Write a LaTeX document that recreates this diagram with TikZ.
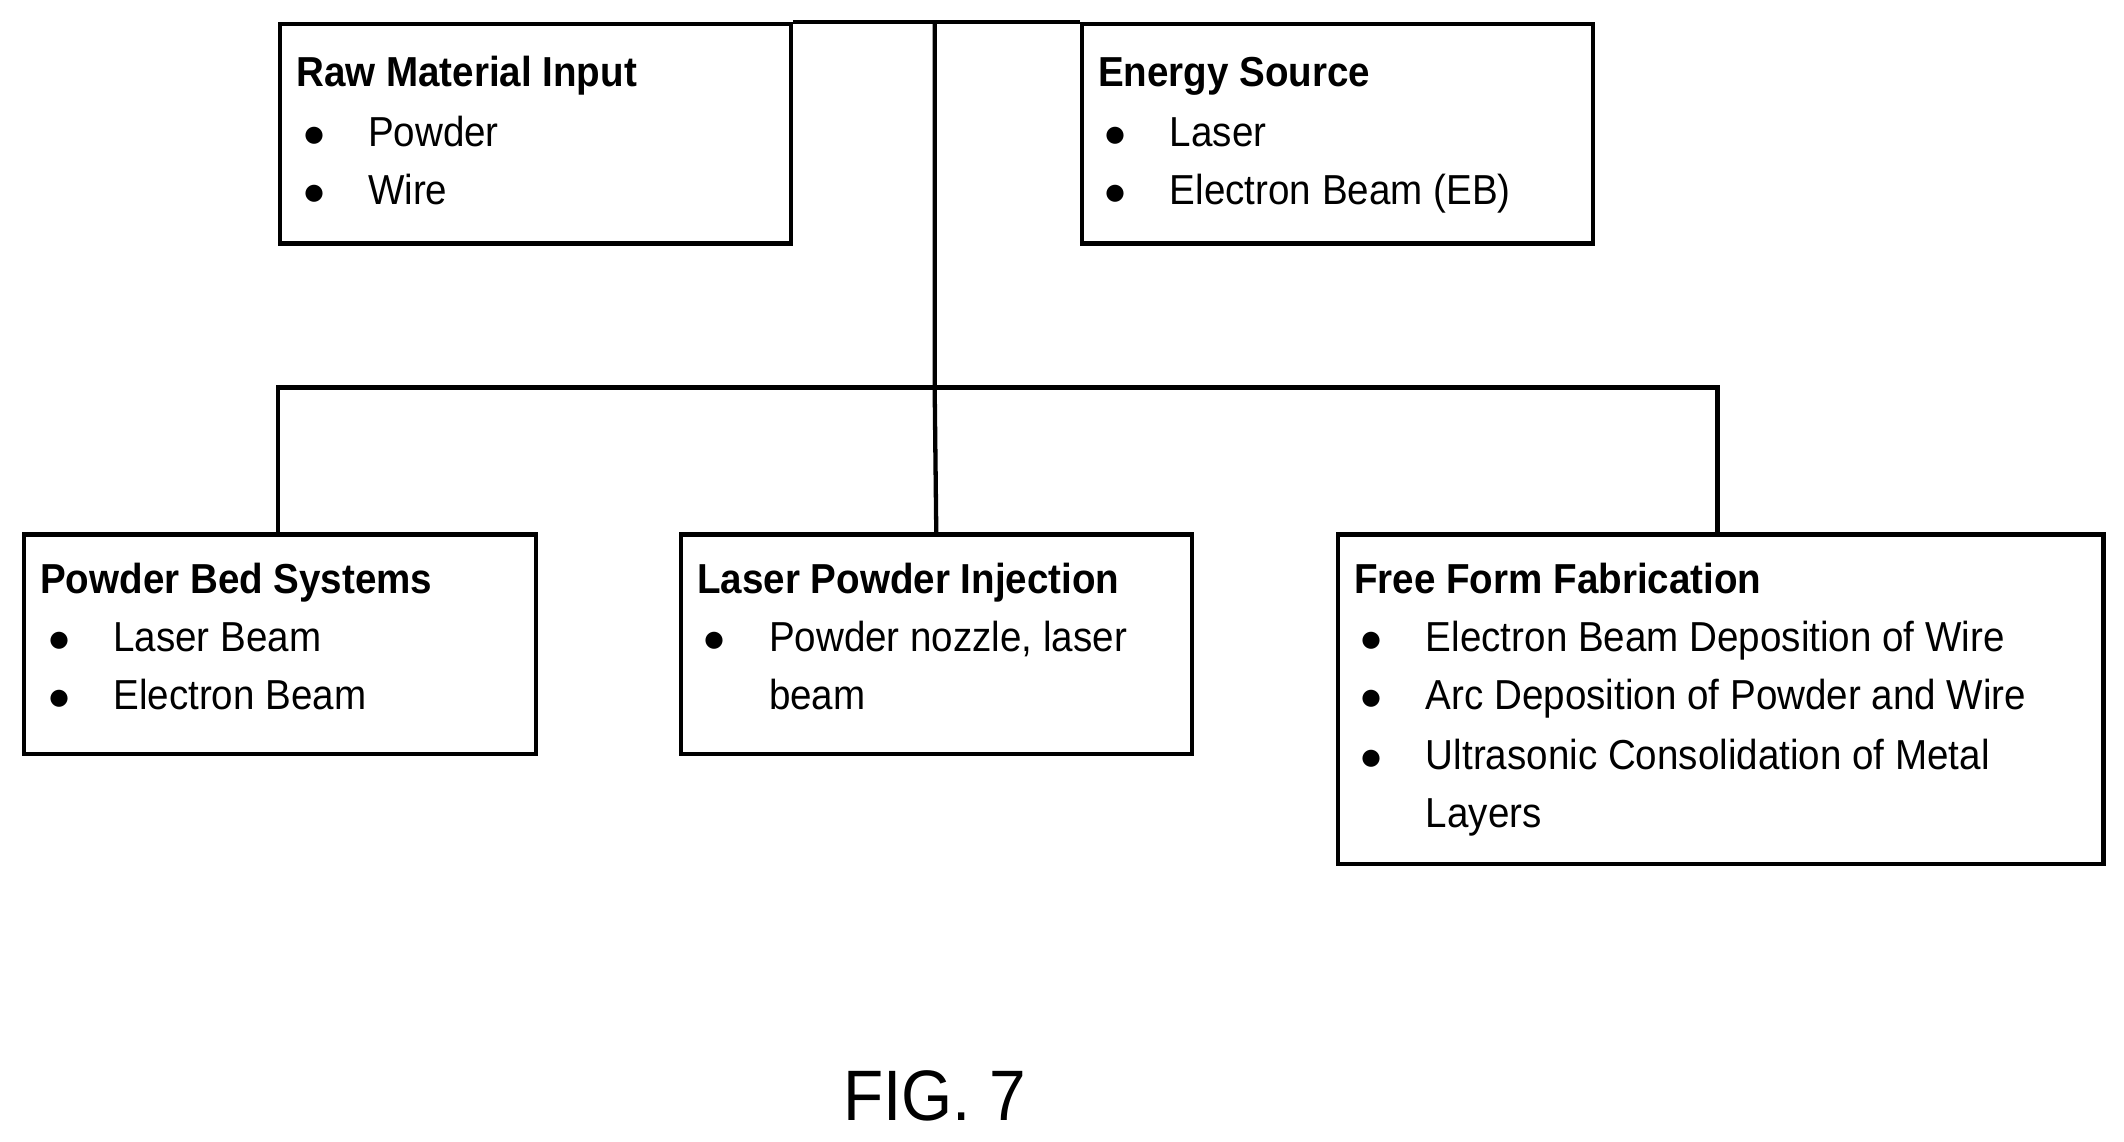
\documentclass[tikz,border=0pt]{standalone}
\usepackage{fontspec}
\setmainfont{Liberation Sans}[FakeStretch=0.92]
\begin{document}
\begin{tikzpicture}[x=0.01cm,y=-0.01cm,
  box/.style={draw,line width=0.9pt,inner sep=0,anchor=north west},
  ln/.style={line width=0.9pt},
  t/.style={anchor=base west,inner sep=0,font=\fontsize{8.8}{12}\selectfont},
  h/.style={t,font=\fontsize{8.8}{12}\selectfont\bfseries}]
\useasboundingbox (0,0) rectangle (1568,843);
\node[box,minimum width=3.77cm,minimum height=1.62cm] (raw) at (205,16) {};
\node[box,minimum width=3.77cm,minimum height=1.62cm] (energy) at (797,16) {};
\node[box,minimum width=3.78cm,minimum height=1.62cm] (pbs) at (16,393) {};
\node[box,minimum width=3.77cm,minimum height=1.62cm] (lpi) at (501,393) {};
\node[box,minimum width=5.65cm,minimum height=2.43cm] (ffm) at (986,393) {};
\coordinate (top) at (690,16);
\coordinate (mid) at (690,286);
\coordinate (l) at (205,286);
\coordinate (r) at (1268,286);
\draw[ln] (raw.north east) -- (energy.north west);
\draw[ln] (top) -- (mid) -- (lpi.north);
\draw[ln] (pbs.north -| l) -- (l) -- (r) -- (ffm.north -| r);
\newcommand{\blt}[3]{\node[t] at (#1-48,#2) {$\bullet$}; \node[t] at (#1,#2) {#3};}
\node[h] at (218,64) {Raw Material Input};
\blt{271}{108}{Powder}
\blt{271}{151}{Wire}
\node[h] at (810,64) {Energy Source};
\blt{863}{108}{Laser}
\blt{863}{151}{Electron Beam (EB)}
\node[h] at (29,438) {Powder Bed Systems};
\blt{83}{481}{Laser Beam}
\blt{83}{524}{Electron Beam}
\node[h] at (514,438) {Laser Powder Injection};
\blt{567}{481}{Powder nozzle, laser}
\node[t] at (567,524) {beam};
\node[h] at (999,438) {Free Form Fabrication};
\blt{1052}{481}{Electron Beam Deposition of Wire}
\blt{1052}{524}{Arc Deposition of Powder and Wire}
\blt{1052}{568}{Ultrasonic Consolidation of Metal}
\node[t] at (1052,611) {Layers};
\node[anchor=base,inner sep=0,font=\fontsize{15}{18}\selectfont] (fig) at (690,827) {FIG. 7};
\end{tikzpicture}
\end{document}
